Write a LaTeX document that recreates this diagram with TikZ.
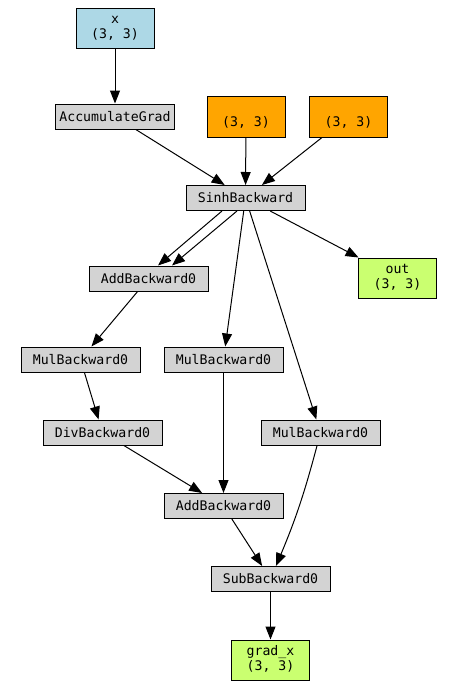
\documentclass[tikz,border=0pt]{standalone}
\usepackage{fontspec}
\setmonofont{DejaVu Sans Mono}
\usetikzlibrary{arrows.meta}
\definecolor{fngray}{HTML}{D3D3D3}
\definecolor{leafblue}{HTML}{ADD8E6}
\definecolor{savedorange}{HTML}{FFA500}
\definecolor{outgreen}{HTML}{CAFF70}

\begin{document}
\begin{tikzpicture}[x=1pt, y=-1pt, >={Triangle[length=13pt,width=10pt]}, line width=1pt, fn node/.style={rectangle, draw, fill=fngray, minimum width=119pt, minimum height=25pt, inner sep=0pt, font=\ttfamily\fontsize{13.2}{14}\selectfont}, tensor node/.style={rectangle, draw, minimum width=78pt, minimum height=40pt, inner sep=0pt, align=center, font=\ttfamily\fontsize{13.2}{14}\selectfont}]
	\useasboundingbox (0,0) rectangle (459,694);
	\node[tensor node, fill=leafblue] (var) at (115,28) {\strut x\\\strut(3, 3)};
	\node[fn node] (acc) at (115,116.5) {AccumulateGrad};
	\node[tensor node, fill=savedorange, minimum height=41pt] (savedA) at (246,116.5) {\strut\\\strut(3, 3)};
	\node[tensor node, fill=savedorange, minimum height=41pt] (savedB) at (348.5,116.5) {\strut\\\strut(3, 3)};
	\node[fn node] (sinh) at (245.5,198) {SinhBackward};
	\node[fn node] (add1) at (148.5,278.5) {AddBackward0};
	\node[tensor node, fill=outgreen] (out) at (397.5,278) {\strut out\\\strut(3, 3)};
	\node[fn node] (mulA) at (80.5,359.5) {MulBackward0};
	\node[fn node] (mulB) at (223.5,359.5) {MulBackward0};
	\node[fn node] (div) at (102.5,432.5) {DivBackward0};
	\node[fn node] (mulC) at (320.5,432.5) {MulBackward0};
	\node[fn node] (add2) at (223.5,506) {AddBackward0};
	\node[fn node] (sub) at (270.5,579) {SubBackward0};
	\node[tensor node, fill=outgreen] (grad) at (270.5,660) {\strut grad\_x\\\strut(3, 3)};
	\path[->]
		(var) edge (acc)
		(acc) edge (sinh)
		(savedA) edge (sinh)
		(savedB) edge (sinh)
		([xshift=-23.5pt]sinh.south) edge ([xshift=9.5pt]add1.north)
		([xshift=-8.5pt]sinh.south) edge ([xshift=23.5pt]add1.north)
		(sinh) edge (out)
		(sinh) edge (mulB)
		(sinh) edge (mulC)
		(add1) edge (mulA)
		(mulA) edge (div)
		(div) edge (add2)
		(mulB) edge (add2)
		(mulC) edge[bend left=4] (sub)
		(add2) edge (sub)
		(sub) edge (grad);
\end{tikzpicture}
\end{document}
